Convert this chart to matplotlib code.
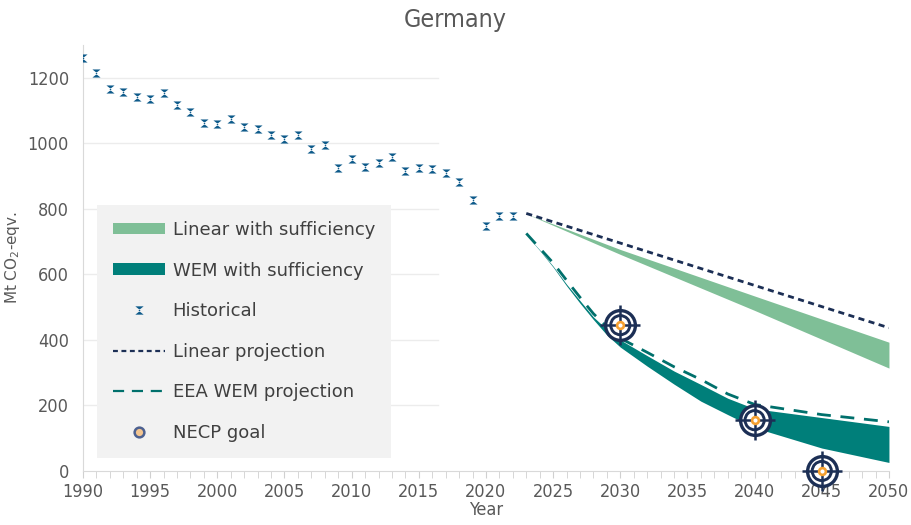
import numpy as np
import matplotlib.pyplot as plt
from matplotlib.patches import Patch
from matplotlib.lines import Line2D
from matplotlib.ticker import MultipleLocator
from matplotlib import font_manager

# historical emissions, Mt CO2-eqv.
hist_years = list(range(1990, 2023))
hist_values = [1261, 1215, 1167, 1157, 1141, 1135, 1153, 1116, 1096, 1063,
               1060, 1075, 1050, 1044, 1024, 1012, 1026, 984, 994, 925,
               953, 927, 940, 958, 916, 926, 922, 910, 882, 828,
               747, 777, 777]

# linear projection
lin_years = [2023, 2050]
lin_values = [786, 437]

# linear with sufficiency (band)
lin_suff_years = [2023, 2030, 2040, 2050]
lin_suff_upper = [785, 676, 534, 393]
lin_suff_lower = [785, 661, 490, 314]

# WEM with sufficiency (band)
wem_years = [2023, 2024, 2025, 2026, 2027, 2028, 2029, 2030, 2032, 2034,
             2036, 2038, 2040, 2045, 2050]
wem_upper = [720, 675, 625, 570, 520, 470, 432, 400, 352, 305,
             264, 222, 190, 163, 136]
wem_lower = [720, 673, 622, 565, 512, 462, 415, 378, 320, 265,
             213, 172, 132, 70, 26]

# EEA WEM projection
eea_years = [2023, 2024, 2025, 2026, 2027, 2028, 2029, 2030, 2032, 2034,
             2036, 2038, 2040, 2045, 2050]
eea_values = [725, 680, 635, 582, 530, 480, 440, 405, 362, 318,
              279, 235, 203, 172, 150]

# NECP goals
necp_years = [2030, 2040, 2045]
necp_values = [445, 155, 0]

light_green = "#7fbf97"
dark_teal = "#007f7a"
navy = "#1c2f55"
hist_blue = "#0d5a8a"
eea_teal = "#00706c"
orange = "#f5a030"
text_gray = "#595959"

# condensed font for ticks/title if it exists
condensed = None
for f in font_manager.fontManager.ttflist:
    if f.name == "Liberation Sans Narrow" or "Condensed" in f.fname and "DejaVuSans" in f.fname:
        if "Bold" not in f.fname and "Oblique" not in f.fname and "Italic" not in f.fname:
            condensed = f.fname
            break
if condensed:
    narrow_fp = lambda size: font_manager.FontProperties(fname=condensed, size=size)
else:
    narrow_fp = lambda size: font_manager.FontProperties(family="DejaVu Sans", size=size * 0.9)

fig = plt.figure(figsize=(9.11, 5.25), dpi=100)
ax = fig.add_axes([0.0911, 0.1029, 0.8847, 0.8114])

hourglass = [(-1, 1), (1, 1), (-0.25, 0), (1, -1), (-1, -1), (0.25, 0), (-1, 1)]

ax.fill_between(lin_suff_years, lin_suff_lower, lin_suff_upper,
                color=light_green, linewidth=0, zorder=2)
ax.fill_between(wem_years, wem_lower, wem_upper,
                color=dark_teal, linewidth=0, zorder=2)
ax.plot(lin_years, lin_values, color=navy, linestyle=(0, (2.2, 1.6)),
        linewidth=2, zorder=3)
ax.plot(eea_years, eea_values, color=eea_teal, linestyle=(0, (5, 3.5)),
        linewidth=2, zorder=3)
ax.scatter(hist_years, hist_values, marker=hourglass, s=34, color=hist_blue,
           linewidths=0, zorder=4)

# NECP goal "target" markers
ax.scatter(necp_years, necp_values, marker="o", s=460, facecolors="white",
           edgecolors=navy, linewidths=2.4, zorder=5, clip_on=False)
ax.scatter(necp_years, necp_values, marker="o", s=190, facecolors="none",
           edgecolors=navy, linewidths=2.1, zorder=6, clip_on=False)
ax.scatter(necp_years, necp_values, marker="+", s=820, color=navy,
           linewidths=1.8, zorder=6, clip_on=False)
ax.scatter(necp_years, necp_values, marker="o", s=24, facecolors="white",
           edgecolors=orange, linewidths=1.9, zorder=7, clip_on=False)

ax.set_xlim(1990, 2050)
ax.set_ylim(0, 1300)
ax.xaxis.set_major_locator(MultipleLocator(5))
ax.xaxis.set_minor_locator(MultipleLocator(1))
ax.set_yticks(range(0, 1201, 200))

for yv in range(200, 1201, 200):
    ax.axhline(yv, xmin=0, xmax=0.44, color="#ececec", linewidth=1, zorder=0)

for side in ["top", "right"]:
    ax.spines[side].set_visible(False)
ax.spines["left"].set_color("#d9d9d9")
ax.spines["bottom"].set_color("#d9d9d9")
ax.tick_params(axis="x", which="both", direction="out", length=5,
               color="#d0d0d0", labelcolor=text_gray, pad=4)
ax.tick_params(axis="y", length=0, labelcolor=text_gray, pad=10)
for lab in ax.get_xticklabels() + ax.get_yticklabels():
    lab.set_fontproperties(narrow_fp(13))

ax.set_xlabel("Year", color=text_gray, fontproperties=narrow_fp(13), labelpad=0)
ax.set_ylabel("Mt CO$_2$-eqv.", fontsize=11, color=text_gray, labelpad=4)
fig.text(0.5, 0.962, "Germany", ha="center", va="center",
         color=text_gray, fontproperties=narrow_fp(18))

handles = [
    Patch(facecolor=light_green, edgecolor="none"),
    Patch(facecolor=dark_teal, edgecolor="none"),
    Line2D([], [], linestyle="none", marker=hourglass, markersize=6,
           color=hist_blue, markeredgewidth=0),
    Line2D([], [], color=navy, linestyle=(0, (2.2, 1.6)), linewidth=1.6),
    Line2D([], [], color=eea_teal, linestyle=(0, (5, 3.5)), linewidth=1.6),
    Line2D([], [], linestyle="none", marker="o", markersize=7,
           markerfacecolor="#f3c590", markeredgecolor="#4d6190",
           markeredgewidth=1.8),
]
labels = ["Linear with sufficiency", "WEM with sufficiency", "Historical",
          "Linear projection", "EEA WEM projection", "NECP goal"]
leg = ax.legend(handles, labels, loc="upper left", bbox_to_anchor=(0.017, 0.625),
                frameon=True, fancybox=False, facecolor="#f2f2f2",
                edgecolor="none", framealpha=1, fontsize=13,
                labelcolor="#404040", handlelength=2.9, handleheight=0.6,
                labelspacing=1.25, borderpad=0.9, handletextpad=0.4,
                borderaxespad=0)
leg.set_zorder(1)

fig.savefig("out.png", dpi=100)
